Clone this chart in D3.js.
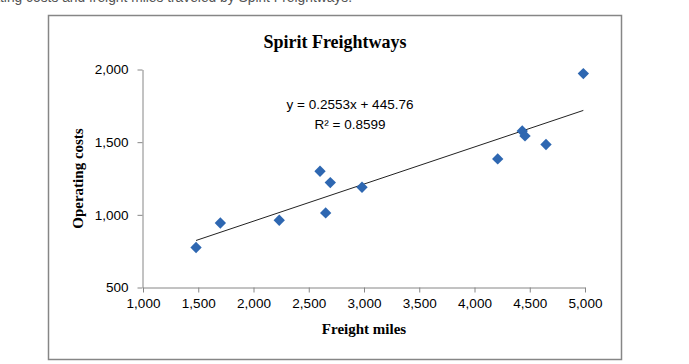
<!DOCTYPE html>
<html><head><meta charset="utf-8">
<script src="https://cdn.jsdelivr.net/npm/d3@7"></script>
<style>
html,body{margin:0;padding:0;background:#fff;}
svg{display:block;}
</style></head>
<body>
<script>
const freightMiles = [1480, 1700, 2233, 2602, 2653, 2695, 2982, 4210, 4432, 4457, 4647, 4985];
const operatingCosts = [775, 944, 963, 1300, 1013, 1222, 1190, 1385, 1577, 1543, 1484, 1972];
const xTicks = [1000, 1500, 2000, 2500, 3000, 3500, 4000, 4500, 5000];
const yTicks = [500, 1000, 1500, 2000];
const trendCoef = [0.2553, 445.76];
const titleText = "Spirit Freightways";
const xTitle = "Freight miles";
const yTitle = "Operating costs";
const eqLines = ["y = 0.2553x + 445.76", "R² = 0.8599"];
const captionText = "operating costs and freight miles traveled by Spirit Freightways.";

const W = 689, H = 364;
const svg = d3.select("body").append("svg").attr("width", W).attr("height", H);

// cut-off caption at top (as in the reference)
svg.append("text").attr("x", 352).attr("y", 2).attr("text-anchor", "end")
  .attr("font-family", "Liberation Sans, Arial, sans-serif").attr("font-size", 13.8)
  .attr("fill", "#555").text(captionText);

// outer frame
svg.append("rect").attr("x", 48.5).attr("y", 15.5).attr("width", 573).attr("height", 344)
  .attr("fill", "#fff").attr("stroke", "#868686").attr("stroke-width", 1.5);

const x = d3.scaleLinear().domain([1000, 5000]).range([143, 585]);
const y = d3.scaleLinear().domain([500, 2000]).range([287.5, 69.5]);

const tickFont = "Liberation Sans, Arial, sans-serif";

const xAxis = svg.append("g").attr("transform", "translate(0,287.5)")
  .call(d3.axisBottom(x).tickValues(xTicks).tickFormat(d3.format(",")).tickSizeInner(5).tickSizeOuter(0).tickPadding(6));
const yAxis = svg.append("g").attr("transform", "translate(142.5,0)")
  .call(d3.axisLeft(y).tickValues(yTicks).tickFormat(d3.format(",")).tickSizeInner(5).tickSizeOuter(0).tickPadding(9));
[xAxis, yAxis].forEach(g => {
  g.selectAll("path,line").attr("stroke", "#868686").attr("stroke-width", 1);
  g.selectAll("text").attr("font-family", tickFont).attr("font-size", 13.5).attr("fill", "#000");
});

// trendline
const xs = d3.extent(freightMiles);
svg.append("line")
  .attr("x1", x(xs[0])).attr("y1", y(trendCoef[0] * xs[0] + trendCoef[1]))
  .attr("x2", x(xs[1])).attr("y2", y(trendCoef[0] * xs[1] + trendCoef[1]))
  .attr("stroke", "#222").attr("stroke-width", 1);

// markers
const pts = freightMiles.map((v, i) => [v, operatingCosts[i]]);
svg.append("g").selectAll("path").data(pts).enter().append("path")
  .attr("d", d3.symbol().type(d3.symbolDiamond2).size(82))
  .attr("transform", d => `translate(${x(d[0])},${y(d[1])})`)
  .attr("fill", "#2E67B1");

// title
svg.append("text").attr("x", 335).attr("y", 48).attr("text-anchor", "middle")
  .attr("font-family", "Liberation Serif, Times New Roman, serif").attr("font-weight", "bold")
  .attr("font-size", 18).text(titleText);

// axis titles
svg.append("text").attr("x", 364).attr("y", 334).attr("text-anchor", "middle")
  .attr("font-family", "Liberation Serif, Times New Roman, serif").attr("font-weight", "bold")
  .attr("font-size", 15).text(xTitle);
svg.append("text").attr("transform", "translate(83,178.5) rotate(-90)").attr("text-anchor", "middle")
  .attr("font-family", "Liberation Serif, Times New Roman, serif").attr("font-weight", "bold")
  .attr("font-size", 15).text(yTitle);

// equation
svg.append("g").selectAll("text").data(eqLines).enter().append("text")
  .attr("x", 350).attr("y", (d, i) => 109 + i * 20).attr("text-anchor", "middle")
  .attr("font-family", tickFont).attr("font-size", 13.5).attr("fill", "#000").text(d => d);
</script>
</body></html>
